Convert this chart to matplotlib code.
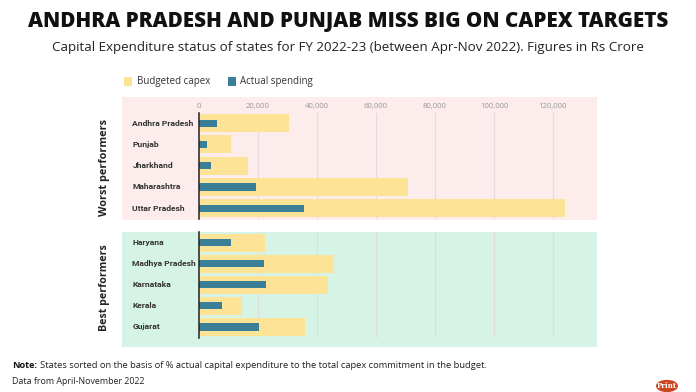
import matplotlib
matplotlib.use("Agg")
import matplotlib.pyplot as plt
from matplotlib.patches import Rectangle, Circle
import matplotlib.transforms as mtransforms

worst_states = ["Andhra Pradesh", "Punjab", "Jharkhand", "Maharashtra", "Uttar Pradesh"]
worst_budget = [30500, 10900, 16700, 71000, 124000]
worst_actual = [6000, 2600, 4200, 19200, 35700]

best_states = ["Haryana", "Madhya Pradesh", "Karnataka", "Kerala", "Gujarat"]
best_budget = [22300, 45900, 43600, 14700, 35900]
best_actual = [11000, 22100, 22600, 7800, 20300]

ticks = [0, 20000, 40000, 60000, 80000, 100000, 120000]
tick_labels = ["0", "20,000", "40,000", "60,000", "80,000", "100,000", "120,000"]

YELLOW = "#fde396"
TEAL = "#3b7e98"
PINK = "#fcecec"
GREEN = "#d6f4e5"
FONT = "Open Sans"

W, H = 696, 392
fig = plt.figure(figsize=(W / 100, H / 100), dpi=100)
fig.patch.set_facecolor("white")

def fx(px):
    return px / W

def fy(py):
    return 1 - py / H

# panel backgrounds
fig.patches.append(Rectangle((fx(122), fy(220)), fx(597) - fx(122), fy(97) - fy(220),
                             transform=fig.transFigure, facecolor=PINK, edgecolor="none", zorder=-5))
fig.patches.append(Rectangle((fx(122), fy(347)), fx(597) - fx(122), fy(232) - fy(347),
                             transform=fig.transFigure, facecolor=GREEN, edgecolor="none", zorder=-5))

xmax = 129000
ax_left = 199
ax_right = ax_left + xmax / 339.0

def make_ax(top, bottom):
    ax = fig.add_axes([fx(ax_left), fy(bottom), fx(ax_right) - fx(ax_left), fy(top) - fy(bottom)])
    ax.set_facecolor("none")
    ax.set_xlim(0, xmax)
    ax.set_ylim(4.5, -0.5)
    for s in ["top", "right", "bottom"]:
        ax.spines[s].set_visible(False)
    ax.spines["left"].set_color("#222222")
    ax.spines["left"].set_linewidth(1.1)
    ax.spines["left"].set_zorder(5)
    ax.set_yticks([])
    ax.set_xticks(ticks)
    ax.grid(axis="x", color="#e2dcdc", linewidth=0.8, zorder=0)
    ax.set_axisbelow(True)
    ax.tick_params(axis="x", length=0)
    return ax

def draw(ax, states, budget, actual):
    y = list(range(len(states)))
    ax.barh(y, budget, height=0.85, color=YELLOW, zorder=2)
    ax.barh(y, actual, height=0.34, color=TEAL, zorder=3)
    tr = mtransforms.blended_transform_factory(fig.transFigure, ax.transData)
    for i, s in enumerate(states):
        ax.text(fx(132.5), i, s, transform=tr, ha="left", va="center",
                fontsize=6.1, fontweight="bold", color="#333333", family="Roboto")

ax1 = make_ax(112.5, 218.8)
draw(ax1, worst_states, worst_budget, worst_actual)
ax1.xaxis.tick_top()
ax1.set_xticklabels(tick_labels, fontsize=5.6, color="#9a9a9a", family=FONT)
ax1.tick_params(axis="x", pad=1.5)

ax2 = make_ax(232, 337.5)
draw(ax2, best_states, best_budget, best_actual)
ax2.set_xticklabels([])

# section labels
fig.text(fx(105), fy(168), "Worst performers", rotation=90, ha="center", va="center",
         fontsize=7.8, fontweight="bold", color="#222222", family=FONT)
fig.text(fx(105), fy(288), "Best performers", rotation=90, ha="center", va="center",
         fontsize=7.7, fontweight="bold", color="#222222", family=FONT)

# titles
fig.text(0.5, fy(22), "ANDHRA PRADESH AND PUNJAB MISS BIG ON CAPEX TARGETS", ha="center", va="center",
         fontsize=14.9, fontweight="heavy", color="#111111", family=FONT)
fig.text(0.5, fy(47), "Capital Expenditure status of states for FY 2022-23 (between Apr-Nov 2022). Figures in Rs Crore",
         ha="center", va="center", fontsize=9.6, color="#222222", family=FONT)

# legend
fig.patches.append(Rectangle((fx(124), fy(86)), fx(8), fy(0) - fy(9), transform=fig.transFigure,
                             facecolor=YELLOW, edgecolor="none"))
fig.text(fx(137), fy(81.5), "Budgeted capex", ha="left", va="center", fontsize=7, color="#333333", family=FONT)
fig.patches.append(Rectangle((fx(228), fy(86)), fx(8), fy(0) - fy(9), transform=fig.transFigure,
                             facecolor=TEAL, edgecolor="none"))
fig.text(fx(240), fy(81.5), "Actual spending", ha="left", va="center", fontsize=7, color="#333333", family=FONT)

# footnote
fig.text(fx(12.5), fy(366), "Note:", ha="left", va="center", fontsize=6.6, fontweight="bold",
         color="#111111", family=FONT)
fig.text(fx(40), fy(366), "States sorted on the basis of % actual capital expenditure to the total capex commitment in the budget.",
         ha="left", va="center", fontsize=6.75, color="#222222", family=FONT)
fig.text(fx(12.5), fy(381), "Data from April-November 2022", ha="left", va="center", fontsize=6.4,
         color="#222222", family=FONT)

# logo
fig.patches.append(Circle((fx(667), fy(386)), fx(11), transform=fig.transFigure,
                          facecolor="#c9461f", edgecolor="none"))
fig.text(fx(667), fy(379), "The", ha="center", va="center", fontsize=3.5, color="white", family="DejaVu Serif")
fig.text(fx(667), fy(386), "Print", ha="center", va="center", fontsize=5, color="white",
         fontweight="bold", family="DejaVu Serif")

fig.savefig("out.png", dpi=100)
